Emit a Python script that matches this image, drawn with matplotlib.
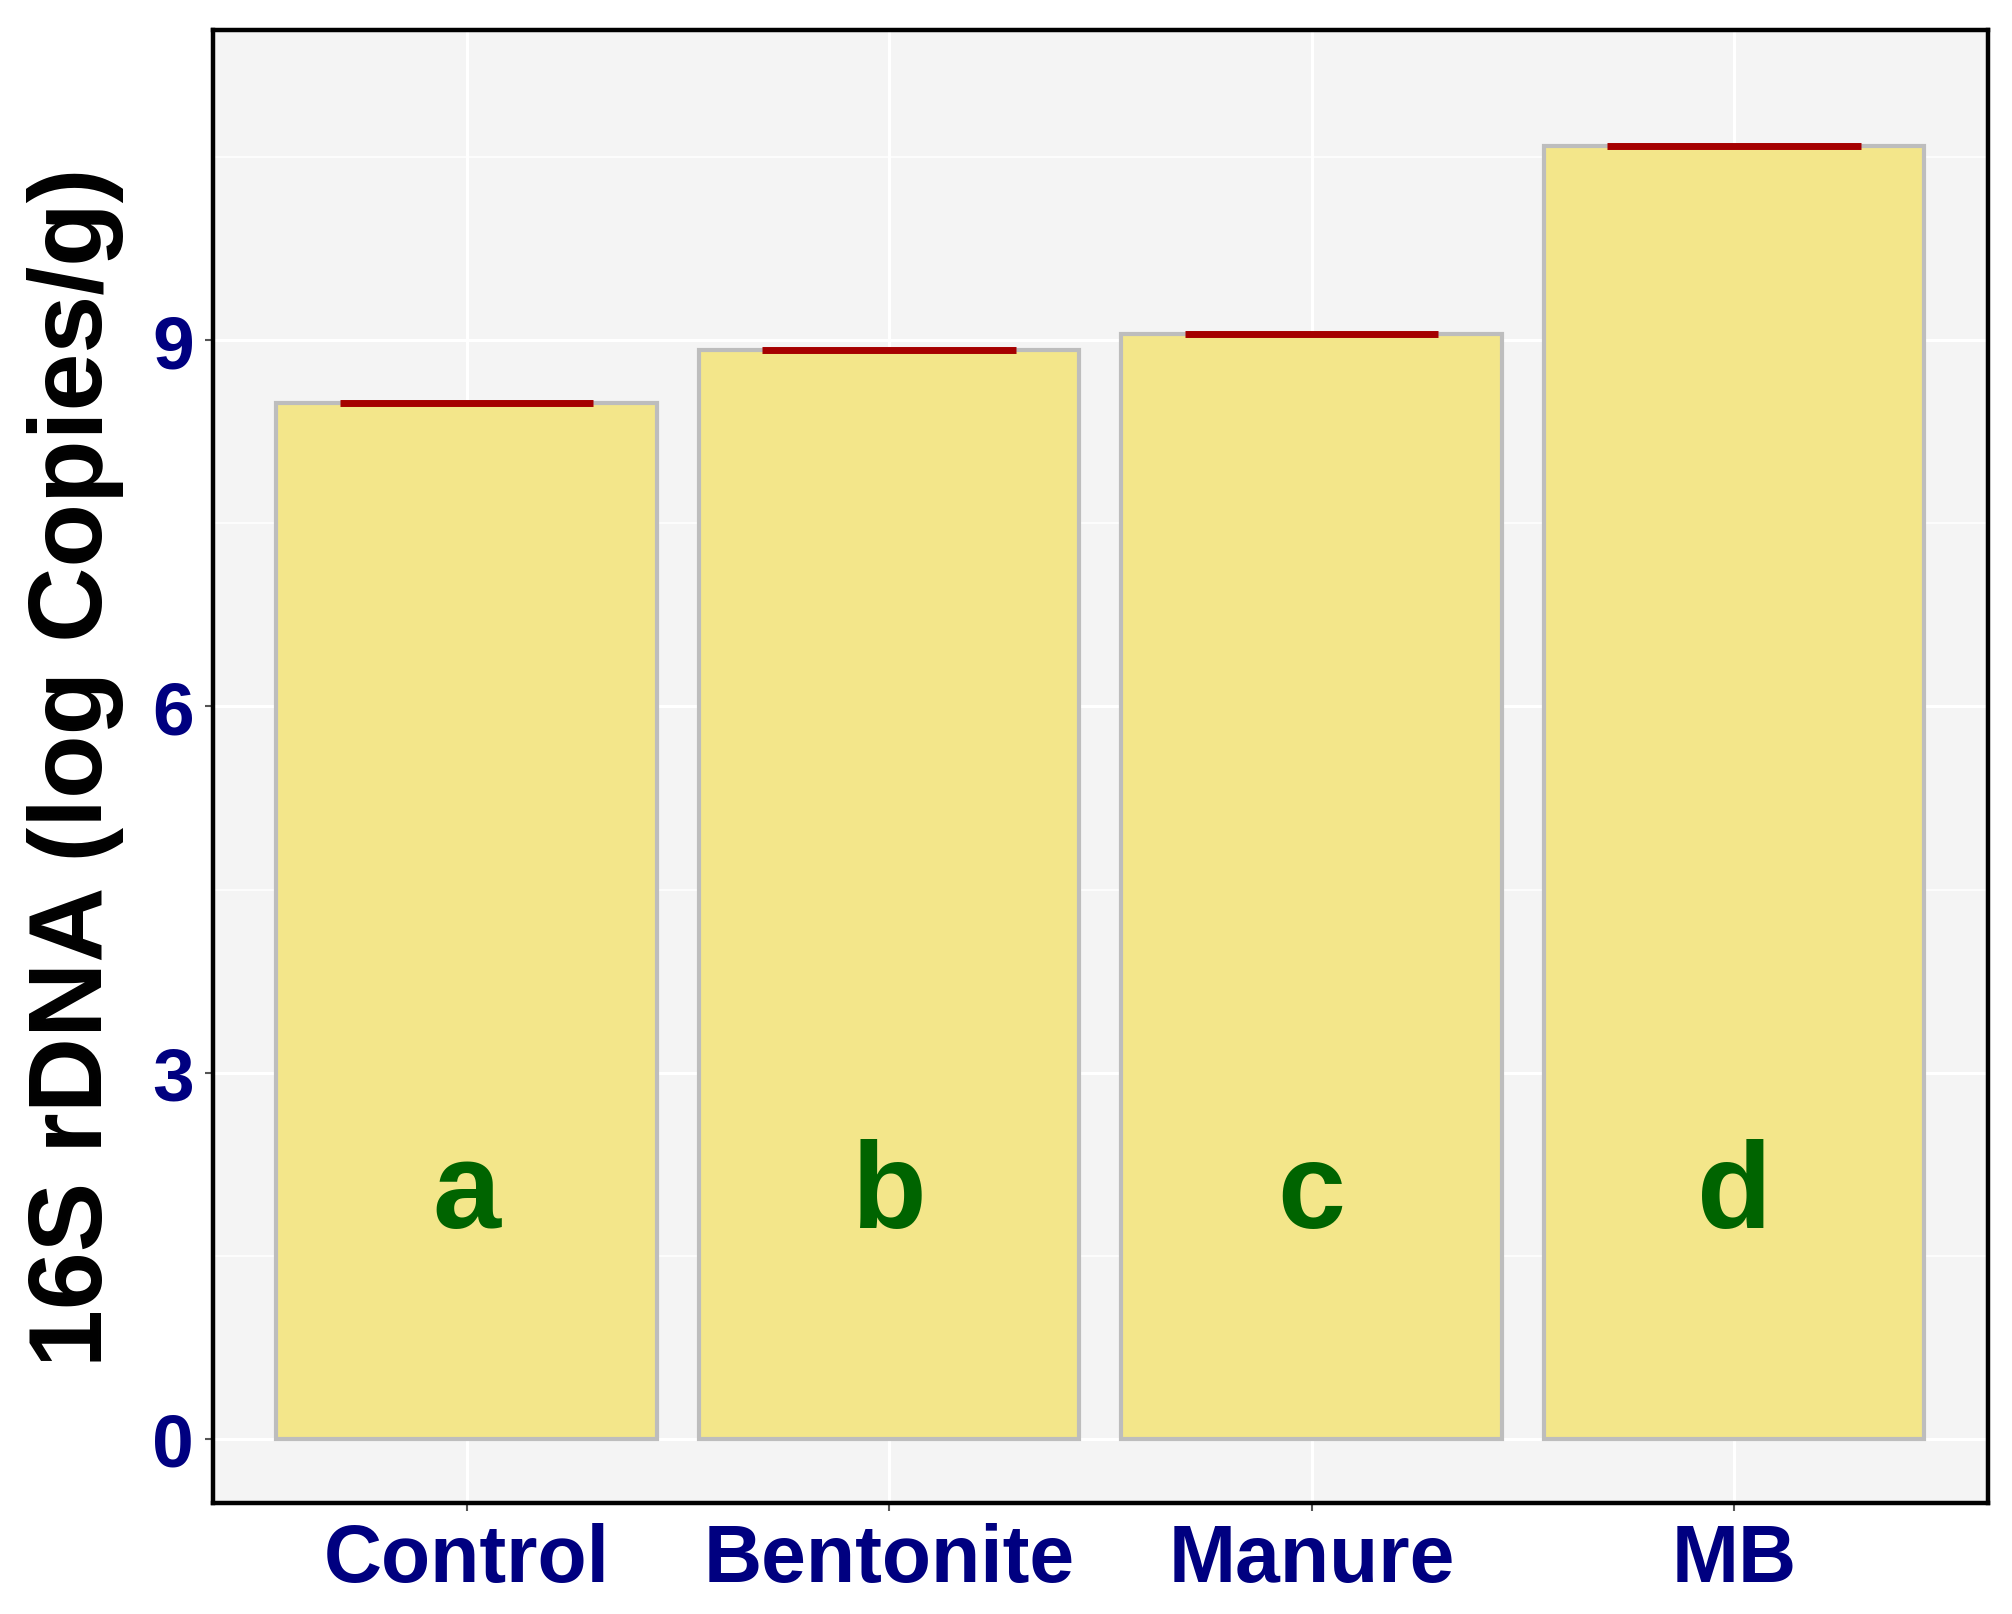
import matplotlib
matplotlib.use("Agg")
import matplotlib.pyplot as plt
import numpy as np
from matplotlib.ticker import MultipleLocator

# values
treatments = ["Control", "Bentonite", "Manure", "MB"]
mean_log_copies = [8.49, 8.92, 9.05, 10.59]
sig_letters = ["a", "b", "c", "d"]
y_ticks = [0, 3, 6, 9]

plt.rcParams['font.family'] = ['Liberation Sans', 'DejaVu Sans']

fig = plt.figure(figsize=(20.12, 16.15), dpi=100)
ax = fig.add_axes([0.1059, 0.0687, 0.882, 0.912])
ax.set_facecolor('#F4F4F4')

x = np.arange(1, len(treatments) + 1)
ax.bar(x, mean_log_copies, width=0.9, color='#F3E68A', edgecolor='#BDBDBD',
       linewidth=3, zorder=3)
# error bars (SE is tiny, only the caps show)
ax.hlines(mean_log_copies, x - 0.3, x + 0.3, colors='#A50000', linewidth=5,
          zorder=4)

for xi, lab in zip(x, sig_letters):
    ax.text(xi, 2.0, lab, ha='center', va='center', fontsize=88,
            fontweight='bold', color='#006400', zorder=5)

ax.set_xlim(0.4, 4.6)
ax.set_ylim(-0.525, 11.54)
ax.set_xticks(x)
ax.set_xticklabels(treatments)
ax.set_yticks(y_ticks)
ax.yaxis.set_minor_locator(MultipleLocator(1.5))

ax.grid(which='major', color='white', linewidth=2.2, zorder=0)
ax.grid(which='minor', axis='y', color='white', linewidth=1.1, zorder=0)
ax.set_axisbelow(True)

ax.tick_params(axis='both', which='major', length=6, width=1.5, color='#555555',
               pad=8)
ax.tick_params(axis='y', which='minor', length=0)
for lab in ax.get_xticklabels():
    lab.set_fontsize(58)
    lab.set_fontweight('bold')
    lab.set_color('#000080')
for lab in ax.get_yticklabels():
    lab.set_fontsize(54)
    lab.set_fontweight('bold')
    lab.set_color('#000080')

for sp in ax.spines.values():
    sp.set_color('black')
    sp.set_linewidth(3.2)

ax.set_ylabel("16S rDNA (log Copies/g)", fontsize=75, fontweight='bold',
              color='black', labelpad=20)

fig.savefig("out.png", dpi=100)
